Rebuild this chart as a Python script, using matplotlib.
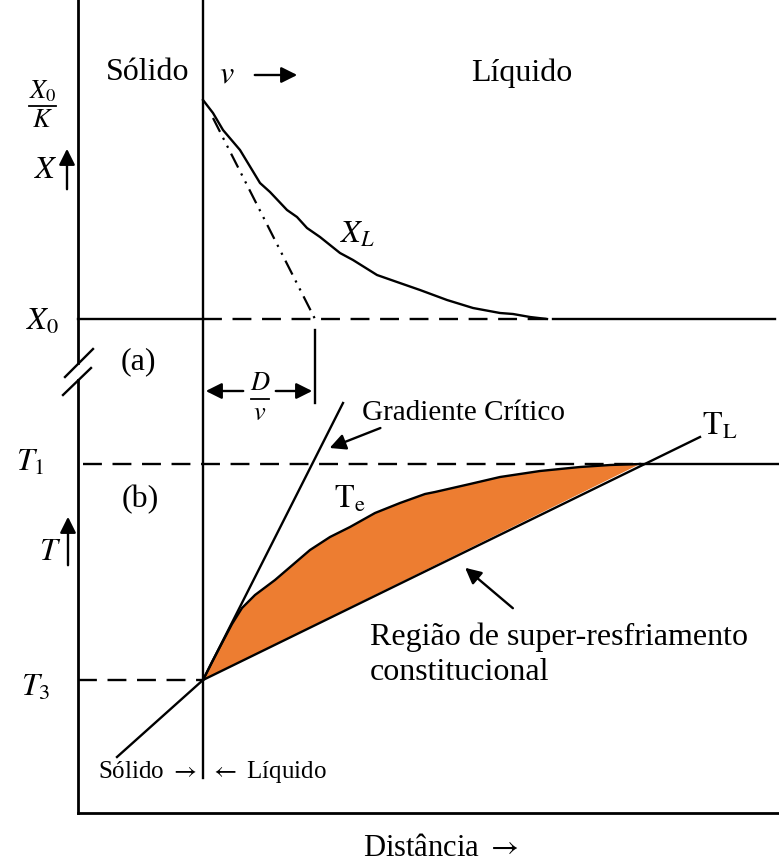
import numpy as np
import matplotlib.pyplot as plt

plt.rcParams['font.family'] = ['Liberation Serif', 'DejaVu Serif']
plt.rcParams['mathtext.fontset'] = 'stix'

# sketch coordinates: x = distance (px), y = level (px, downward)
iface_x = 203
axis_x, axis_bottom = 78, 813
x0_level, t1_level, t3_level = 319, 464, 680

# solute profile X_L ahead of the interface
xl_dist = [203, 213, 223, 240, 260, 270, 287, 297, 307, 320, 340, 353, 377,
           397, 420, 447, 473, 500, 513, 530, 547]
xl_conc = [100, 113, 130, 150, 183, 192, 210, 217, 228, 237, 253, 260, 275,
           282, 290, 300, 308, 313, 314, 317, 319]
# tangent at the interface, reaching X0 at D/v
tan_dist = [213, 315]
tan_conc = [118, 319]

# equilibrium liquidus temperature Te
te_dist = [203, 212, 222, 232, 242, 255, 275, 310, 330, 350, 375, 400, 425,
           435, 470, 500, 540, 580, 610, 640]
te_temp = [680, 662, 643, 624, 608, 595, 580, 550, 537, 527, 513, 503, 494,
           492, 484, 477, 471, 467, 465, 464]
# actual temperature TL and critical gradient
tl_dist = [203, 700]
tl_temp = [680, 437]
crit_dist = [203, 343]
crit_temp = [680, 403]
solid_dist = [117, 203]
solid_temp = [757, 680]

fig = plt.figure(figsize=(7.79, 8.61), dpi=100)
ax = fig.add_axes([0, 0, 1, 1])
ax.set_xlim(0, 779)
ax.set_ylim(861, 0)
ax.axis('off')

lw = 1.7
dash = (0, (8, 4.5))
k = 'black'


def fraction(x, y, top, bottom, width, size=19):
    # stacked fraction: numerator, bar, denominator
    ax.text(x, y - 15, top, fontsize=size, ha='center', va='center')
    ax.plot([x - width / 2, x + width / 2], [y, y], color=k, lw=1.3)
    ax.text(x, y + 15, bottom, fontsize=size, ha='center', va='center')


# frame with break mark
ax.plot([axis_x, axis_x], [0, 363], color=k, lw=2)
ax.plot([axis_x, axis_x], [380, axis_bottom], color=k, lw=2)
ax.plot([axis_x, 779], [axis_bottom, axis_bottom], color=k, lw=2)
ax.plot([65, 93], [377, 349], color=k, lw=lw)
ax.plot([63, 91], [395, 368], color=k, lw=lw)

# interface
ax.plot([iface_x, iface_x], [0, 778], color=k, lw=lw)

# (a) concentration
ax.plot([axis_x, iface_x], [x0_level, x0_level], color=k, lw=lw)
ax.plot([iface_x, 548], [x0_level, x0_level], color=k, lw=lw, ls=dash)
ax.plot([553, 775], [x0_level, x0_level], color=k, lw=lw)
ax.plot(xl_dist, xl_conc, color=k, lw=lw)
ax.plot(tan_dist, tan_conc, color=k, lw=1.6, ls=(0, (7, 3, 1, 3, 1, 3)))

# D/v dimension
head = dict(arrowstyle='-|>', lw=lw, color=k, mutation_scale=24)
ax.plot([315, 315], [330, 403], color=k, lw=lw)
ax.annotate('', xy=(iface_x, 391), xytext=(246, 391), arrowprops=head)
ax.annotate('', xy=(315, 391), xytext=(273, 391), arrowprops=head)
fraction(260, 399, r'$D$', r'$v$', 18)

# (b) temperature
ax.plot([83, 640], [t1_level, t1_level], color=k, lw=lw, ls=dash)
ax.plot([640, 779], [t1_level, t1_level], color=k, lw=lw)
ax.plot([axis_x, iface_x], [t3_level, t3_level], color=k, lw=lw, ls=dash)

poly_x = te_dist + [te_dist[0]]
poly_y = te_temp + [te_temp[0]]
ax.fill(poly_x, poly_y, color='#ED7D31', lw=0)
ax.plot(te_dist, te_temp, color=k, lw=lw)
ax.plot(tl_dist, tl_temp, color=k, lw=lw)
ax.plot(crit_dist, crit_temp, color=k, lw=lw)
ax.plot(solid_dist, solid_temp, color=k, lw=lw)

# pointer arrows
arrow = dict(arrowstyle='-|>', lw=lw, color=k, mutation_scale=24)
ax.annotate('', xy=(300, 75), xytext=(252, 75), arrowprops=arrow)
ax.annotate('', xy=(67, 146), xytext=(67, 192), arrowprops=arrow)
ax.annotate('', xy=(68, 514), xytext=(68, 568), arrowprops=arrow)
ax.annotate('', xy=(327, 449), xytext=(383, 427), arrowprops=arrow)
ax.annotate('', xy=(463, 566), xytext=(515, 610), arrowprops=arrow)

# labels
fs = 23
ax.text(148, 73, 'Sólido', fontsize=fs, ha='center', va='center')
ax.text(227, 75, r'$v$', fontsize=fs, ha='center', va='center')
ax.text(522, 73, 'Líquido', fontsize=fs, ha='center', va='center')
fraction(43, 106, r'$X_0$', r'$K$', 27)
ax.text(46, 170, r'$X$', fontsize=fs, ha='center', va='center')
ax.text(43, 322, r'$X_0$', fontsize=fs, ha='center', va='center')
ax.text(357, 235, r'$X_L$', fontsize=fs, ha='center', va='center')
ax.text(138, 362, '(a)', fontsize=fs, ha='center', va='center')
ax.text(140, 500, '(b)', fontsize=fs, ha='center', va='center')
ax.text(30, 463, r'$T_1$', fontsize=fs, ha='center', va='center')
ax.text(50, 553, r'$T$', fontsize=fs, ha='center', va='center')
ax.text(36, 688, r'$T_3$', fontsize=fs, ha='center', va='center')
ax.text(362, 413, 'Gradiente Crítico', fontsize=21, ha='left', va='center')
ax.text(720, 426, r'$\mathrm{T_L}$', fontsize=fs, ha='center', va='center')
ax.text(350, 499, r'$\mathrm{T_e}$', fontsize=fs, ha='center', va='center')
ax.text(370, 637, 'Região de super-resfriamento', fontsize=fs, ha='left', va='center')
ax.text(370, 673, 'constitucional', fontsize=fs, ha='left', va='center')
ax.text(197, 772, r'Sólido $\rightarrow$', fontsize=18, ha='right', va='center')
ax.text(210, 772, r'$\leftarrow$ Líquido', fontsize=18, ha='left', va='center')
ax.text(441, 848, r'Distância $\rightarrow$', fontsize=22, ha='center', va='center')

fig.savefig('out.png', dpi=100)
